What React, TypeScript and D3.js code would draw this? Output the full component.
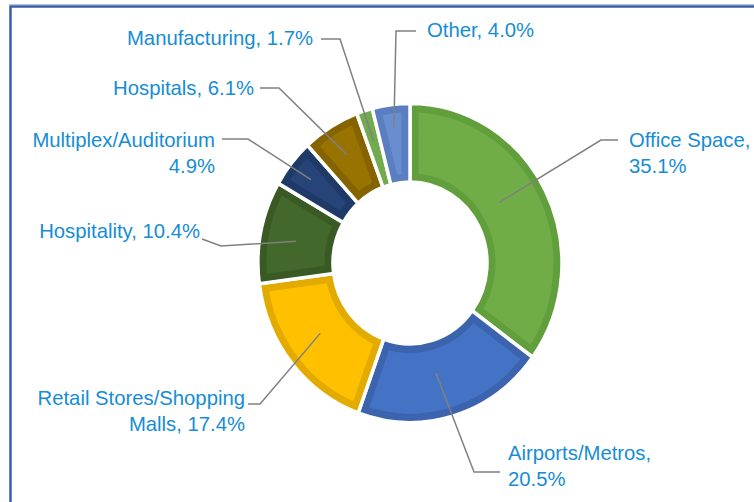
import React from "react";
import * as d3 from "d3";

const categories = [
  "Office Space",
  "Airports/Metros",
  "Retail Stores/Shopping Malls",
  "Hospitality",
  "Multiplex/Auditorium",
  "Hospitals",
  "Manufacturing",
  "Other",
];
const shares = [35.1, 20.5, 17.4, 10.4, 4.9, 6.1, 1.7, 4.0];
const fillColors = ["#70AD47", "#4472C4", "#FFC000", "#43682B", "#264478", "#997300", "#8CC168", "#698ED0"];
const edgeColors = ["#619E3C", "#3B63AE", "#E3AB00", "#395A24", "#203A68", "#846300", "#72AB4E", "#5A7EC0"];
const labelLines = [
  ["Office Space,", "35.1%"],
  ["Airports/Metros,", "20.5%"],
  ["Retail Stores/Shopping", "Malls, 17.4%"],
  ["Hospitality, 10.4%"],
  ["Multiplex/Auditorium", "4.9%"],
  ["Hospitals, 6.1%"],
  ["Manufacturing, 1.7%"],
  ["Other, 4.0%"],
];

// label layout (positions in px, leader anchor radius/angle offset)
const labelLayout = [
  { x: 629, y: 147, anchor: "start", leader: [[618, 140], [601, 140]], r: 106, da: -6 },
  { x: 508, y: 460, anchor: "start", leader: [[500, 472], [474, 472]], r: 108, da: 3 },
  { x: 245, y: 405, anchor: "end", leader: [[248, 404], [260, 404]], r: 112, da: 2 },
  { x: 200, y: 238, anchor: "end", leader: [[202, 239], [221, 246]], r: 116, da: -1 },
  { x: 215, y: 147, anchor: "end", leader: [[222, 139], [248, 139]], r: 127, da: 0 },
  { x: 254, y: 95, anchor: "end", leader: [[260, 88], [279, 88]], r: 121, da: 0 },
  { x: 313, y: 45, anchor: "end", leader: [[321, 39], [340, 39]], r: 122, da: 0 },
  { x: 427, y: 37, anchor: "start", leader: [[416, 31], [396, 31]], r: 129, da: 0 },
];

const W = 754;
const H = 502;
const cx = 410;
const cy = 263;
const outerR = 152;
const innerR = 77;
const sy = 1.05;
const edge = 8.5;
const lineH = 26;

export default function App() {
  const pie = d3.pie<number>().sort(null).value((d) => d);
  const arcs = pie(shares);
  const arcGen = d3.arc<d3.PieArcDatum<number>>().innerRadius(innerR).outerRadius(outerR);

  return (
    <svg width={W} height={H} style={{ position: "absolute", left: 0, top: 0 }} fontFamily="'Liberation Sans', Arial, sans-serif">
      <rect x={0} y={0} width={W} height={H} fill="#fff" />
      <line x1={9} y1={4.5} x2={W} y2={4.5} stroke="#b4c4e6" strokeWidth={1} />
      <path d={`M10.5,${H} L10.5,6.5 L${W},6.5`} fill="none" stroke="#3B5DAA" strokeWidth={2.5} />
      <defs>
        {arcs.map((a, i) => (
          <clipPath id={`clip${i}`} key={i}>
            <path d={arcGen(a) || ""} />
          </clipPath>
        ))}
      </defs>
      <g transform={`translate(${cx},${cy}) scale(1,${sy})`}>
        {arcs.map((a, i) => (
          <g key={i}>
            <path d={arcGen(a) || ""} fill={fillColors[i]} stroke={edgeColors[i]} strokeWidth={edge * 2} clipPath={`url(#clip${i})`} />
            <path d={arcGen(a) || ""} fill="none" stroke="#fff" strokeWidth={3.5} strokeLinejoin="round" />
          </g>
        ))}
      </g>
      {arcs.map((a, i) => {
        const L = labelLayout[i];
        const mid = (a.startAngle + a.endAngle) / 2 + (L.da * Math.PI) / 180;
        const ax = cx + L.r * Math.sin(mid);
        const ay = cy - L.r * Math.cos(mid) * sy;
        const pts = [...L.leader, [ax, ay]];
        return (
          <g key={`l${i}`}>
            <path d={d3.line()(pts as [number, number][]) || ""} fill="none" stroke="#808080" strokeWidth={1.5} />
            <text x={L.x} y={L.y} textAnchor={L.anchor as any} fontSize={20.3} fill="#168DD5">
              {labelLines[i].map((t, j) => (
                <tspan key={j} x={L.x} dy={j === 0 ? 0 : lineH}>
                  {t}
                </tspan>
              ))}
            </text>
          </g>
        );
      })}
    </svg>
  );
}
